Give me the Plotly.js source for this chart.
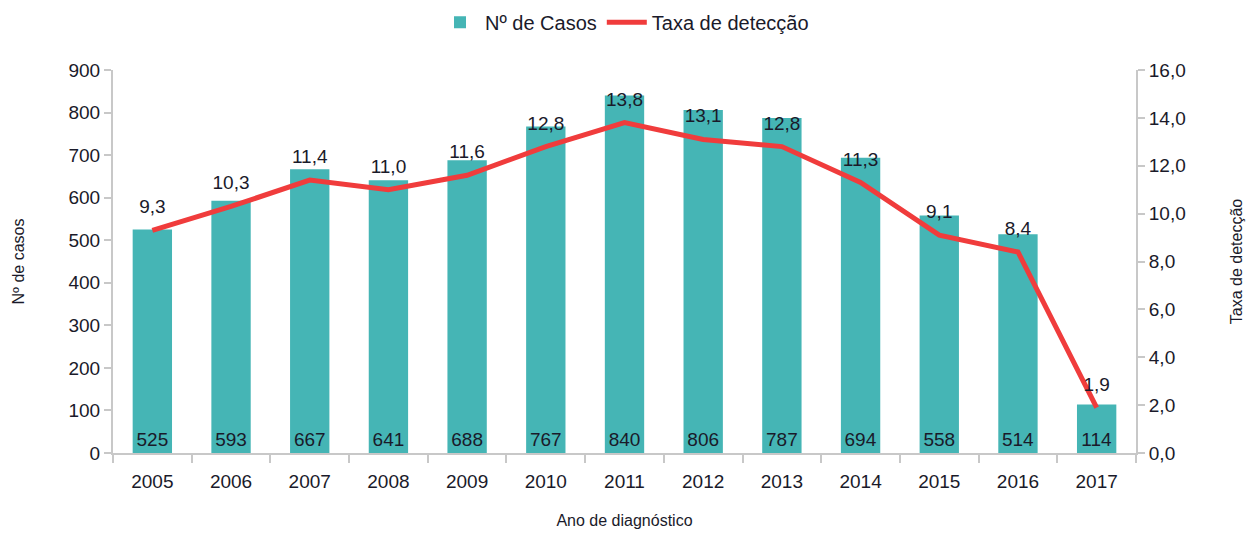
<!DOCTYPE html>
<html><head><meta charset="utf-8">
<script src="https://cdn.plot.ly/plotly-3.0.1.min.js"></script>
<style>body{margin:0;background:#fff}#c{width:1248px;height:533px}</style>
</head><body><div id="c"></div>
<script>
const anos = ['2005','2006','2007','2008','2009','2010','2011','2012','2013','2014','2015','2016','2017'];
const casos = [525,593,667,641,688,767,840,806,787,694,558,514,114];
const taxa = [9.3,10.3,11.4,11.0,11.6,12.8,13.8,13.1,12.8,11.3,9.1,8.4,1.9];

const fnt = 'Liberation Sans, Arial, sans-serif';
const txt = '#1a1a2a';
const axc = '#c8c8c8';

const data = [
  {type:'bar', name:'Nº de Casos', x:anos, y:casos, marker:{color:'#45b5b5'},
   text:casos.map(String), textposition:'inside', insidetextanchor:'start',
   textfont:{family:fnt, size:19, color:txt}, textangle:0, hoverinfo:'x+y'},
  {type:'scatter', mode:'lines+markers+text', name:'Taxa de detecção', x:anos, y:taxa, yaxis:'y2',
   line:{color:'#f03c3c', width:5}, marker:{size:18, color:'rgba(0,0,0,0)'},
   texttemplate:'%{y:.1f}', textposition:'top center',
   textfont:{family:fnt, size:19, color:txt}, cliponaxis:false}
];
const layout = {
  width:1248, height:533, paper_bgcolor:'#fff', plot_bgcolor:'#fff',
  margin:{l:113, r:112, t:70, b:80, autoexpand:false},
  separators:', ',
  font:{family:fnt, color:txt, size:18},
  bargap:0.5,
  showlegend:true,
  legend:{orientation:'h', x:0.5, xanchor:'center', y:0.995, yref:'container', yanchor:'top',
          font:{size:20, color:txt}, traceorder:'normal', itemwidth:40},
  xaxis:{type:'category', range:[-0.5,12.5], showline:true, linecolor:axc, linewidth:2, ticks:'outside', tickson:'boundaries',
         ticklen:8, tickcolor:axc, tickwidth:2, tickfont:{size:19}, showgrid:false, ticklabelstandoff:10,
         title:{text:'Ano de diagnóstico', font:{size:16}, standoff:24}},
  yaxis:{range:[0,900], dtick:100, showline:true, linecolor:axc, linewidth:2, ticks:'outside', ticklen:7,
         tickcolor:axc, tickwidth:2, showgrid:false, zeroline:false, tickfont:{size:19},
         title:{text:'Nº de casos', font:{size:16}, standoff:40}},
  yaxis2:{range:[0,16], dtick:2, overlaying:'y', side:'right', showline:true, linecolor:axc, linewidth:2,
          ticks:'outside', ticklen:7, tickcolor:axc, tickwidth:2, showgrid:false, zeroline:false,
          tickformat:'.1f', tickfont:{size:19},
          title:{text:'Taxa de detecção', font:{size:16}, standoff:46}}
};
Plotly.newPlot('c', data, layout, {displayModeBar:false});
</script></body></html>
